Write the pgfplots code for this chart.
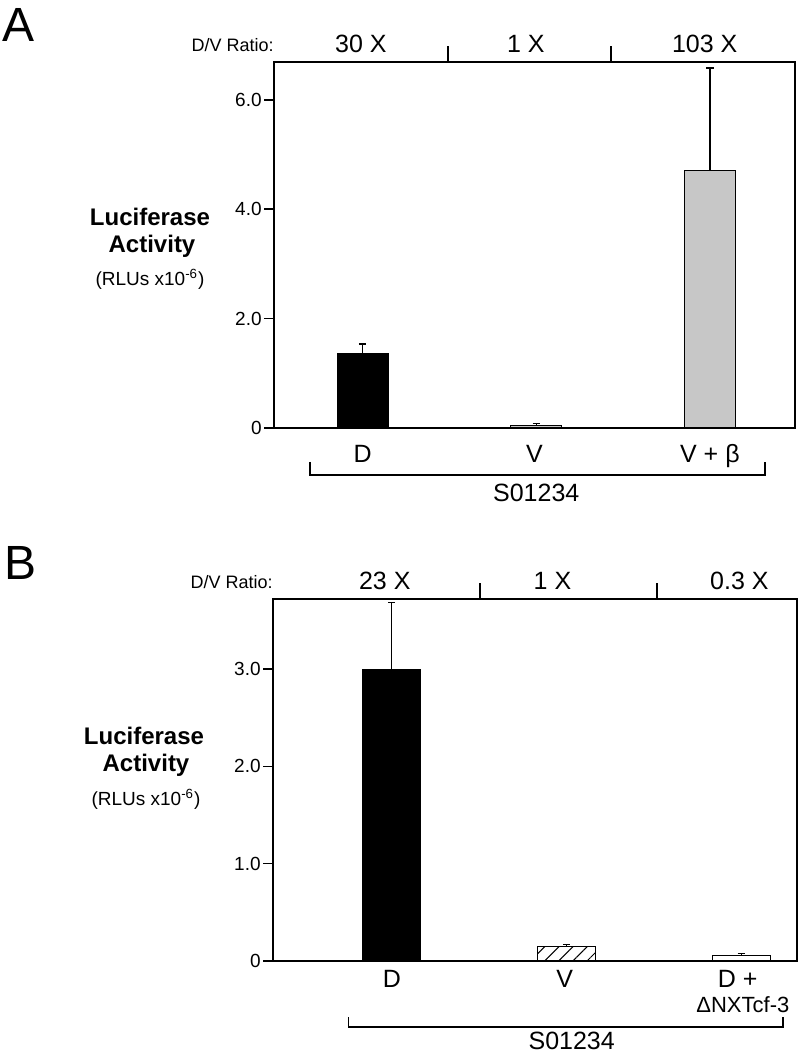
\documentclass[border=0pt]{standalone}
\usepackage{fontspec}
\setmainfont{Liberation Sans}
\usepackage{pgfplots}
\pgfplotsset{compat=1.18}
\usetikzlibrary{patterns.meta}
\definecolor{stip}{gray}{0.78}
\newcommand{\fs}[1]{\fontsize{#1}{#1}\selectfont}
\begin{document}
\begin{tikzpicture}
\useasboundingbox (0,0) rectangle (400pt,526.5pt);
\fill[white] (0,0) rectangle (400pt,526.5pt);
% panel letters
\node[anchor=base west, inner sep=0pt, font=\fs{24pt}] at (1pt,505.5pt) {A};
\node[anchor=base west, inner sep=0pt, font=\fs{24pt}] at (2pt,236.5pt) {B};
% y labels A
\node[anchor=base, inner sep=0pt, font=\fs{12pt}\bfseries] at (75pt,413.5pt) {Luciferase};
\node[anchor=base, inner sep=0pt, font=\fs{12pt}\bfseries] at (76pt,400pt) {Activity};
\node[anchor=base, inner sep=0pt, font=\fs{9.5pt}] at (75pt,383.5pt) {(RLUs x10\textsuperscript{-6})};
% y labels B
\node[anchor=base, inner sep=0pt, font=\fs{12pt}\bfseries] at (72pt,154pt) {Luciferase};
\node[anchor=base, inner sep=0pt, font=\fs{12pt}\bfseries] at (73pt,140.5pt) {Activity};
\node[anchor=base, inner sep=0pt, font=\fs{9.5pt}] at (73pt,123.5pt) {(RLUs x10\textsuperscript{-6})};

\pgfplotsset{myax/.style={
  anchor=south west, scale only axis, clip=false,
  axis line style={line width=0.8pt},
  xtick=\empty, tick align=outside, major tick length=5pt,
  ytick pos=left,
  tick style={line width=0.8pt, black},
  yticklabel style={font=\fs{9.5pt}, inner sep=1pt},
  ymin=0,
},
 errs/.style={error bars/.cd, y dir=plus, y explicit,
   error bar style={line width=0.6pt, black},
   error mark options={rotate=90, mark size=1.8pt, line width=0.6pt, black}}
}

% ---------------- Panel A
\begin{axis}[myax, at={(137pt,312.5pt)}, width=260.5pt, height=183pt,
  xmin=-0.51, xmax=2.49, ymax=6.69,
  ytick={0,2,4,6}, yticklabels={0,2.0,4.0,6.0}]
\addplot[ybar, bar width=25.5pt, bar shift=0pt, fill=black, draw=black, line width=0.5pt, errs]
  coordinates {(0,1.37) +- (0,0.165)};
\addplot[ybar, bar width=25.5pt, bar shift=0pt, fill=stip, draw=black, line width=0.5pt, errs]
  coordinates {(1,0.05) +- (0,0.03)};
\addplot[ybar, bar width=25.5pt, bar shift=0pt, fill=stip, draw=black, line width=0.5pt, errs]
  coordinates {(2,4.70) +- (0,1.88)};
% top ratio header
\node[anchor=base east, inner sep=0pt, font=\fs{9pt}, yshift=5pt] at (rel axis cs:0,1) {D/V Ratio:};
\draw[line width=0.8pt] (axis cs:0.492,6.69) -- ([yshift=8pt]axis cs:0.492,6.69);
\draw[line width=0.8pt] (axis cs:1.430,6.69) -- ([yshift=8pt]axis cs:1.430,6.69);
\node[anchor=base, inner sep=0pt, font=\fs{12.5pt}, yshift=4.5pt] at (axis cs:-0.01,6.69) {30 X};
\node[anchor=base, inner sep=0pt, font=\fs{12.5pt}, yshift=4.5pt] at (axis cs:0.94,6.69) {1 X};
\node[anchor=base, inner sep=0pt, font=\fs{12.5pt}, yshift=4.5pt] at (axis cs:1.97,6.69) {103 X};
% category labels
\node[anchor=base, inner sep=0pt, font=\fs{12.5pt}, yshift=-17.25pt] at (axis cs:0,0) {D};
\node[anchor=base, inner sep=0pt, font=\fs{12.5pt}, yshift=-17.25pt] at (axis cs:0.99,0) {V};
\node[anchor=base, inner sep=0pt, font=\fs{12.5pt}, yshift=-17.25pt] at (axis cs:2,0) {V + β};
% bracket
\draw[line width=0.7pt] ([yshift=-17pt]axis cs:-0.302,0) -- ([yshift=-23.5pt]axis cs:-0.302,0)
  -- ([yshift=-23.5pt]axis cs:2.317,0) -- ([yshift=-17pt]axis cs:2.317,0);
\node[anchor=base, inner sep=0pt, font=\fs{12.5pt}, yshift=-37pt] at (axis cs:1.0,0) {S01234};
\end{axis}

% ---------------- Panel B
\begin{axis}[myax, at={(136.5pt,46pt)}, width=262pt, height=181pt,
  xmin=-0.68, xmax=2.32, ymax=3.72,
  ytick={0,1,2,3}, yticklabels={0,1.0,2.0,3.0}]
\addplot[ybar, bar width=29pt, bar shift=0pt, fill=black, draw=black, line width=0.5pt, errs]
  coordinates {(0,3.0) +- (0,0.68)};
\addplot[ybar, bar width=29pt, bar shift=0pt, fill=white, draw=black, line width=0.5pt,
  pattern={Lines[angle=45,distance=5pt,line width=0.5pt]}, errs]
  coordinates {(1,0.15) +- (0,0.017)};
\addplot[ybar, bar width=29pt, bar shift=0pt, fill=white, draw=black, line width=0.5pt, errs]
  coordinates {(2,0.06) +- (0,0.015)};
\node[anchor=base east, inner sep=0pt, font=\fs{9pt}, yshift=5pt] at (rel axis cs:0,1) {D/V Ratio:};
\draw[line width=0.8pt] (axis cs:0.506,3.72) -- ([yshift=8pt]axis cs:0.506,3.72);
\draw[line width=0.8pt] (axis cs:1.519,3.72) -- ([yshift=8pt]axis cs:1.519,3.72);
\node[anchor=base, inner sep=0pt, font=\fs{12.5pt}, yshift=4.5pt] at (axis cs:-0.04,3.72) {23 X};
\node[anchor=base, inner sep=0pt, font=\fs{12.5pt}, yshift=4.5pt] at (axis cs:0.92,3.72) {1 X};
\node[anchor=base, inner sep=0pt, font=\fs{12.5pt}, yshift=4.5pt] at (axis cs:1.99,3.72) {0.3 X};
\node[anchor=base, inner sep=0pt, font=\fs{12.5pt}, yshift=-13.25pt] at (axis cs:0,0) {D};
\node[anchor=base, inner sep=0pt, font=\fs{12.5pt}, yshift=-13.25pt] at (axis cs:0.99,0) {V};
\node[anchor=base, inner sep=0pt, font=\fs{12.5pt}, yshift=-13.25pt] at (axis cs:1.98,0) {D +};
\node[anchor=base, inner sep=0pt, font=\fs{11pt}, yshift=-25.75pt] at (axis cs:2.01,0) {ΔNXTcf-3};
\draw[line width=0.7pt] ([yshift=-28pt]axis cs:-0.249,0) -- ([yshift=-33pt]axis cs:-0.249,0)
  -- ([yshift=-33pt]axis cs:2.240,0) -- ([yshift=-28pt]axis cs:2.240,0);
\node[anchor=base, inner sep=0pt, font=\fs{12.5pt}, yshift=-44pt] at (axis cs:1.03,0) {S01234};
\end{axis}
\end{tikzpicture}
\end{document}
